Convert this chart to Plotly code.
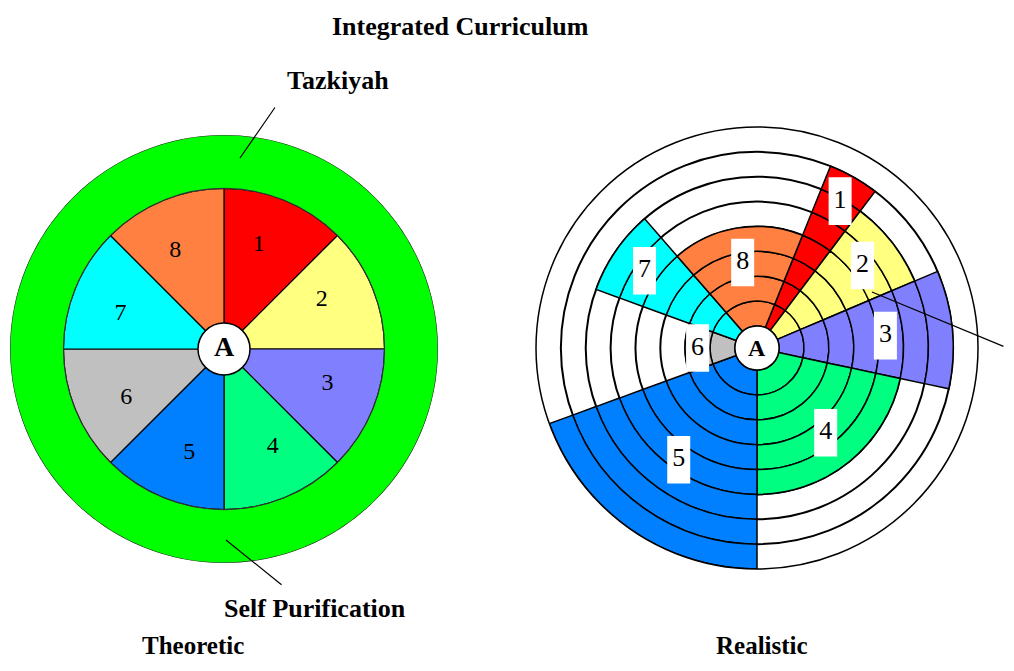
import numpy as np
import plotly.graph_objects as go

# ---------------- data ----------------
categories = ["1", "2", "3", "4", "5", "6", "7", "8"]
colors = ["#FF0000", "#FFFF80", "#8080FF", "#00FF80",
          "#0080FF", "#C0C0C0", "#00FFFF", "#FF8040"]

# Theoretic: eight equal sectors, surrounded by the Tazkiyah ring
theoretic_values = [1, 1, 1, 1, 1, 1, 1, 1]
theoretic_widths = [45, 45, 45, 45, 45, 45, 45, 45]
tazkiyah_ring = [0.333]          # ring thickness beyond the sectors
centre_left = [0.162]            # radius of centre circle "A"

# Realistic: number of rings reached by each sector and its angular width
realistic_values = [7, 6, 7, 5, 8, 2, 6, 4]
realistic_widths = [15, 30, 35, 78, 70, 40, 29, 63]
realistic_start = 22             # compass angle where sector 1 starts
ring_levels = [1, 2, 3, 4, 5, 6, 7, 8]

# label placement (positions only)
left_label_r = 0.68
left_label_shift = -4
right_label_r = [5.9, 4.5, 4.3, 3.5, 4.6, 1.5, 4.6, 2.6]

# page geometry: the browser body has an 8px margin
PAGE_W, PAGE_H, BODY = 1014, 671, 8
FW, FH = PAGE_W - 2 * BODY, PAGE_H - 2 * BODY
SERIF = "Liberation Serif, Times New Roman, serif"

# ---------------- derived ----------------
th_edges = np.concatenate([[0], np.cumsum(theoretic_widths)])
th_centres = (th_edges[:-1] + th_edges[1:]) / 2

re_edges = realistic_start + np.concatenate([[0], np.cumsum(realistic_widths)])
re_centres = (re_edges[:-1] + re_edges[1:]) / 2


def px(x, y):
    """screen pixel -> paper fraction"""
    return (x - BODY) / FW, 1 - (y - BODY) / FH


def dom(cx, cy, rad):
    x0, y1 = px(cx - rad, cy - rad)
    x1, y0 = px(cx + rad, cy + rad)
    return dict(x=[x0, x1], y=[y0, y1])


fig = go.Figure()

# ---------- left (Theoretic) ----------
fig.add_trace(go.Barpolar(
    r=theoretic_values, theta=th_centres, width=theoretic_widths,
    marker=dict(color=colors, line=dict(color="black", width=1.2)),
    subplot="polar", hoverinfo="skip"))
fig.add_trace(go.Barpolar(
    r=tazkiyah_ring, base=[max(theoretic_values)], theta=[0], width=[360],
    marker=dict(color="#00FF00", line=dict(color="#333333", width=1.2)),
    subplot="polar", hoverinfo="skip"))
fig.add_trace(go.Barpolar(
    r=centre_left, theta=[0], width=[360],
    marker=dict(color="white", line=dict(color="black", width=1.5)),
    subplot="polar", hoverinfo="skip"))
fig.add_trace(go.Scatterpolar(
    r=[left_label_r] * len(categories), theta=th_centres + left_label_shift,
    mode="text", text=categories,
    textfont=dict(family=SERIF, size=24, color="black"),
    subplot="polar", hoverinfo="skip"))
fig.add_trace(go.Scatterpolar(
    r=[0], theta=[0], mode="text", text=["<b>A</b>"],
    textfont=dict(family=SERIF, size=28, color="black"),
    subplot="polar", hoverinfo="skip"))

# ---------- right (Realistic) ----------
seg_r, seg_base, seg_theta, seg_width, seg_color = [], [], [], [], []
for v, c, w, col in zip(realistic_values, re_centres, realistic_widths, colors):
    for k in range(v):
        seg_r.append(1)
        seg_base.append(k)
        seg_theta.append(c)
        seg_width.append(w)
        seg_color.append(col)
fig.add_trace(go.Barpolar(
    r=seg_r, base=seg_base, theta=seg_theta, width=seg_width,
    marker=dict(color=seg_color, line=dict(color="black", width=1.5)),
    subplot="polar2", hoverinfo="skip"))
fig.add_trace(go.Scatterpolar(
    r=right_label_r, theta=re_centres, mode="markers+text", text=categories,
    marker=dict(symbol="line-ns", size=34, color="white",
                line=dict(color="white", width=23)),
    textposition="middle center",
    textfont=dict(family=SERIF, size=26, color="black"),
    subplot="polar2", hoverinfo="skip"))

# ---------- layout ----------
left_dom = dom(224, 349, 214)
right_dom = dom(757, 348, 221)

fig.update_layout(
    width=FW, height=FH, margin=dict(l=0, r=0, t=0, b=0),
    paper_bgcolor="white", showlegend=False,
    polar=dict(
        domain=left_dom, bgcolor="rgba(0,0,0,0)", barmode="overlay",
        radialaxis=dict(range=[0, max(theoretic_values) + tazkiyah_ring[0]],
                        showgrid=False, showline=False, showticklabels=False,
                        ticks=""),
        angularaxis=dict(rotation=90, direction="clockwise", showgrid=False,
                         showline=False, showticklabels=False, ticks="")),
    polar2=dict(
        domain=right_dom, bgcolor="white", barmode="overlay", hole=0.1,
        radialaxis=dict(range=[0, max(ring_levels)], tickvals=ring_levels,
                        showgrid=True, gridcolor="black", gridwidth=1.5,
                        showline=False, showticklabels=False, ticks=""),
        angularaxis=dict(rotation=90, direction="clockwise", showgrid=False,
                         showline=True, linecolor="black", linewidth=1.5,
                         showticklabels=False, ticks="")),
)

texts = [
    ("Integrated Curriculum", 460, 26, 26),
    ("Tazkiyah", 338, 81, 26),
    ("Self Purification", 315, 608, 26),
    ("Theoretic", 193, 645, 25),
    ("Realistic", 762, 645, 25),
]
for t, x, y, s in texts:
    xx, yy = px(x, y)
    fig.add_annotation(x=xx, y=yy, xref="paper", yref="paper", text=f"<b>{t}</b>",
                       xanchor="center", yanchor="middle", showarrow=False,
                       font=dict(family=SERIF, size=s, color="black"))

# centre "A" of realistic wheel
rc = ((right_dom["x"][0] + right_dom["x"][1]) / 2, (right_dom["y"][0] + right_dom["y"][1]) / 2)
fig.add_annotation(x=rc[0], y=rc[1], xref="paper", yref="paper", text="<b>A</b>",
                   xanchor="center", yanchor="middle", showarrow=False,
                   font=dict(family=SERIF, size=24, color="black"))

# leader lines (head x, head y, tail offset dx, dy)
leaders = [(240, 158, 36, -52), (226, 540, 57, 46), (872, 292, 133, 55)]
for x, y, ax, ay in leaders:
    xx, yy = px(x, y)
    fig.add_annotation(x=xx, y=yy, xref="paper", yref="paper", text="",
                       showarrow=True, arrowhead=0, arrowwidth=1.2,
                       arrowcolor="black", ax=ax, ay=ay)

fig.write_html("out.html")
